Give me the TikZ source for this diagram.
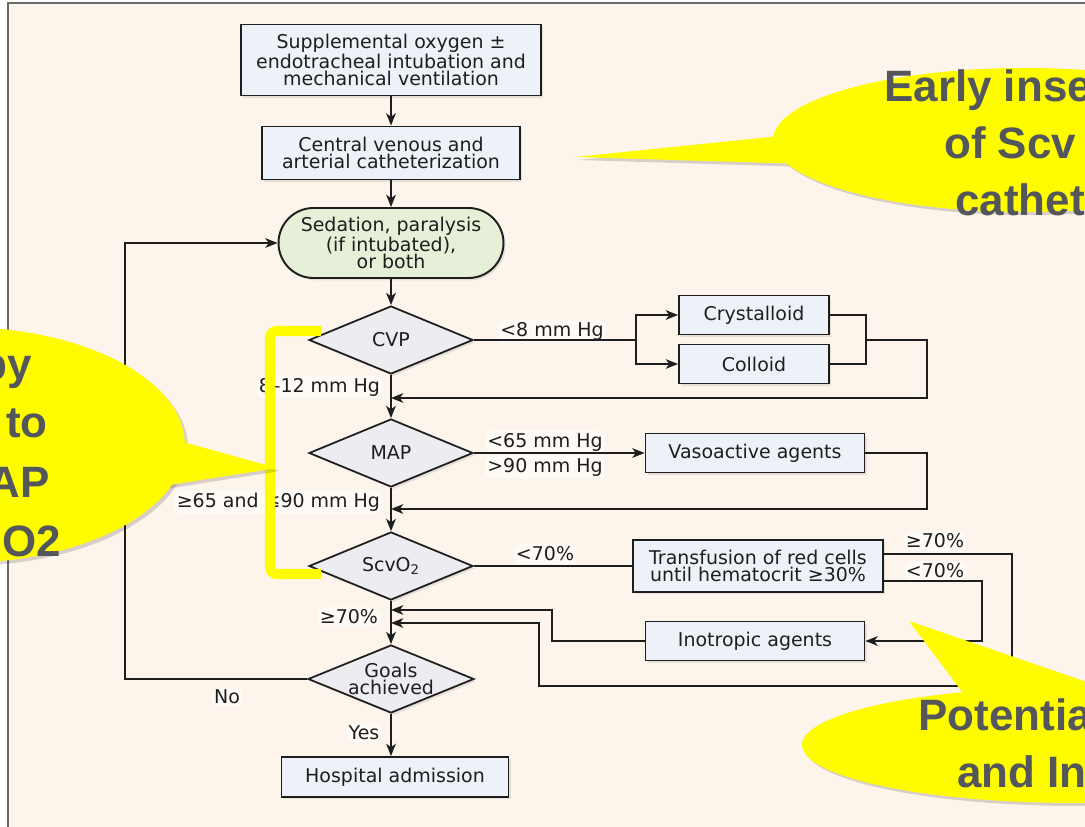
\documentclass[tikz,border=0pt]{standalone}
\usepackage{fontspec}
\setmainfont{DejaVu Sans}
\newfontfamily\callfont{Liberation Sans}
\usetikzlibrary{shapes.geometric,arrows.meta,shadows}
\definecolor{bg}{RGB}{253,244,235}
\definecolor{boxfill}{RGB}{237,242,248}
\definecolor{diafill}{RGB}{236,236,241}
\definecolor{sedfill}{RGB}{230,239,216}
\definecolor{callyellow}{RGB}{255,252,0}
\definecolor{calltext}{RGB}{83,86,90}
\definecolor{framegray}{RGB}{105,105,105}
\definecolor{ink}{RGB}{30,30,30}
\tikzset{
  every node/.style={font=\fontsize{10.8}{9.8}\selectfont, text=ink},
  shd/.style={drop shadow={shadow xshift=1.3pt,shadow yshift=-1.3pt,opacity=0.18}},
  box/.style={draw=ink, line width=1.1pt, fill=boxfill, align=center, inner sep=0pt, shd},
  sedbox/.style={draw=ink, line width=1.1pt, fill=sedfill, align=center, inner sep=0pt, rounded corners=0.7cm, shd},
  dia/.style={draw=ink, line width=1pt, fill=diafill, shape=diamond, aspect=2.4, align=center, inner sep=-2pt, minimum width=3.28cm, minimum height=1.36cm, shd},
  arr/.style={draw=ink, line width=0.85pt, -{Stealth[length=7pt,width=5.5pt,inset=2pt]}},
  ln/.style={draw=ink, line width=0.85pt},
  lbl/.style={fill=white, fill opacity=0.55, text opacity=1, rounded corners=5pt, inner sep=1.5pt},
  ctext/.style={font=\callfont\bfseries\fontsize{25}{30}\selectfont, text=calltext, inner sep=0pt},
}
\begin{document}
\begin{tikzpicture}[x=0.02cm,y=-0.02cm]
\useasboundingbox (0,0) rectangle (1085,827);
\fill[white] (0,0) rectangle (1085,827);
\fill[bg] (8,3) rectangle (1085,827);
\draw[framegray, line width=0.9pt] (8,827) -- (8,3) -- (1085,3);

% main column
\node[box, minimum width=6cm, minimum height=1.42cm] (b1) at (391,60) {Supplemental oxygen ±\\endotracheal intubation and\\mechanical ventilation};
\node[box, minimum width=5.16cm, minimum height=1.06cm] (b2) at (391,153) {Central venous and\\arterial catheterization};
\node[sedbox, minimum width=4.5cm, minimum height=1.4cm] (sed) at (391,243) {Sedation, paralysis\\(if intubated),\\or both};
\node[dia] (cvp) at (391,340) {CVP};
\node[dia] (map) at (391,453) {MAP};
\node[dia] (scv) at (391,566) {ScvO\textsubscript{2}};
\node[dia, minimum width=3.32cm] (goals) at (391,679) {Goals\\achieved};
\node[box, minimum width=4.54cm, minimum height=0.8cm] (hosp) at (395,777) {Hospital admission};

% right column
\node[box, minimum width=3cm, minimum height=0.78cm] (cry) at (754,315) {Crystalloid};
\node[box, minimum width=3cm, minimum height=0.78cm] (col) at (754,364) {Colloid};
\node[box, minimum width=4.38cm, minimum height=0.78cm] (vaso) at (755,453) {Vasoactive agents};
\node[box, minimum width=5cm, minimum height=1.04cm] (trans) at (758,566) {Transfusion of red cells\\until hematocrit ≥30\%};
\node[box, minimum width=4.38cm, minimum height=0.78cm] (ino) at (755,641) {Inotropic agents};

% labels
\node[lbl, anchor=east] (l1) at (383,387) {8–12 mm Hg};
\node[lbl, anchor=east] (l2) at (383,502) {≥65 and ≤90 mm Hg};
\node[lbl] (l3) at (552,331) {<8 mm Hg};
\node[lbl] (l4) at (545,442) {<65 mm Hg};
\node[lbl] (l5) at (545,467) {>90 mm Hg};
\node[lbl] (l6) at (545,554) {<70\%};
\node[lbl] (l7) at (935,541) {≥70\%};
\node[lbl] (l8) at (935,571) {<70\%};
\node[lbl, anchor=east] (l9) at (381,617) {≥70\%};
\node[lbl] (l10) at (227,697) {No};
\node[lbl] (l11) at (364,733) {Yes};

% coordinates
\coordinate (split) at (636,340);
\coordinate (m1) at (866,340);
\coordinate (c1) at (927,340);
\coordinate (r1) at (391,398);
\coordinate (c2) at (927,509);
\coordinate (r2) at (391,509);
\coordinate (t1) at (1012,554);
\coordinate (t2) at (539,686);
\coordinate (r4) at (391,623);
\coordinate (u1) at (982,581);
\coordinate (u2) at (552,610);
\coordinate (r3) at (391,610);
\coordinate (lp) at (125,679);

% connectors
\draw[arr] (b1) -- (b2);
\draw[arr] (b2) -- (sed);
\draw[arr] (sed) -- (cvp);
\draw[arr] (cvp) -- (map);
\draw[arr] (map) -- (scv);
\draw[arr] (scv) -- (goals);
\draw[arr] (goals.south) -- (goals.south |- hosp.north);
\draw[arr] (goals.west) -- (lp) |- (sed.west);

\draw[ln] (cvp.east) -- (split);
\draw[arr] (split) |- (cry.west);
\draw[arr] (split) |- (col.west);
\draw[ln] (cry.east) -| (m1 |- col.east) -- (col.east);
\draw[arr] (m1) -- (c1) |- (r1);

\draw[arr] (map.east) -- (vaso.west);
\draw[arr] (vaso.east) -| (c2) -- (r2);

\draw[ln] (scv.east) -- (trans.west);
\draw[arr] (trans.east |- t1) -- (t1) |- (t2) |- (r4);
\draw[arr] (trans.east |- u1) -- (u1) |- (ino.east);
\draw[arr] (ino.west) -| (u2) -- (r3);

% yellow bracket
\draw[callyellow, line width=5.8pt, rounded corners=4pt] (321,331) -- (270,331) -- (270,574) -- (321,574);

% callouts
\begin{scope}
\clip (0,0) rectangle (1085,827);
% shadows
\begin{scope}[black, opacity=0.15, shift={(3,3)}]
\fill (1025,140) ellipse [x radius=5.04cm, y radius=1.44cm];
\fill (575,157) -- (790,135) -- (805,164) -- cycle;
\fill (-40,445) ellipse [x radius=4.5cm, y radius=2.36cm];
\fill (277,468) -- (165,437) -- (150,488) -- cycle;
\fill (1075,745) ellipse [x radius=5.46cm, y radius=1.16cm];
\fill (909,621) -- (966,697) -- (1110,690) -- cycle;
\end{scope}
\fill[callyellow] (1025,140) ellipse [x radius=5.04cm, y radius=1.44cm];
\fill[callyellow] (575,157) -- (790,135) -- (805,164) -- cycle;
\fill[callyellow] (-40,445) ellipse [x radius=4.5cm, y radius=2.36cm];
\fill[callyellow] (277,468) -- (165,437) -- (150,488) -- cycle;
\fill[callyellow] (1075,745) ellipse [x radius=5.46cm, y radius=1.16cm];
\fill[callyellow] (909,621) -- (966,697) -- (1110,690) -- cycle;

\node[ctext, anchor=base west] (ct1) at (884,102) {Early inse};
\node[ctext, anchor=base west] (ct2) at (944,159) {of Scv};
\node[ctext, anchor=base west] (ct3) at (955,216) {cathet};
\node[ctext, anchor=base east] (cl1) at (32,379) {py};
\node[ctext, anchor=base east] (cl2) at (48,438) {to};
\node[ctext, anchor=base east] (cl3) at (50,497) {AP};
\node[ctext, anchor=base east] (cl4) at (61,556) {O2};
\node[ctext, anchor=base west] (cb1) at (918,730) {Potentia};
\node[ctext, anchor=base west] (cb2) at (957,787) {and In};
\end{scope}
\end{tikzpicture}
\end{document}
